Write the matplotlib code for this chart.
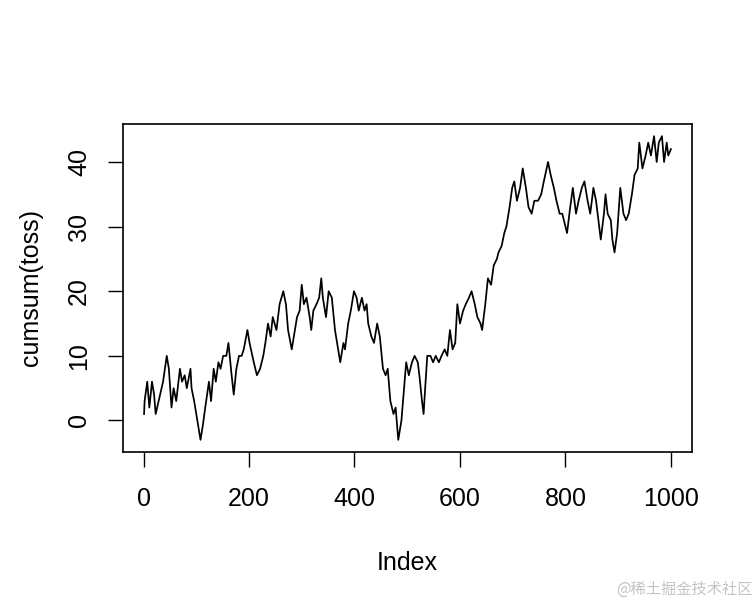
import matplotlib
matplotlib.use("Agg")
import matplotlib.pyplot as plt

plt.rcParams['font.family'] = ['Liberation Sans', 'DejaVu Sans']

# Turning points of cumsum(toss)
index = [1, 2, 7, 11, 16, 20, 23, 37, 44, 48, 53, 57, 62, 69, 73, 78, 82, 89, 91, 96,
         102, 108, 112, 117, 124, 128, 133, 137, 142, 146, 151, 157, 161, 167, 171, 176,
         181, 186, 190, 197, 201, 209, 215, 221, 227, 231, 236, 241, 245, 252, 258, 265,
         270, 274, 281, 285, 291, 296, 300, 304, 309, 315, 318, 322, 328, 333, 337, 340,
         346, 351, 357, 363, 369, 373, 379, 382, 388, 393, 399, 404, 408, 414, 419, 423,
         426, 432, 437, 443, 448, 454, 459, 463, 468, 474, 478, 483, 489, 494, 498, 503,
         509, 514, 520, 523, 528, 531, 534, 538, 544, 549, 554, 560, 565, 571, 576, 581,
         586, 591, 595, 600, 606, 611, 617, 622, 628, 633, 639, 642, 648, 653, 659, 664,
         670, 673, 679, 684, 688, 694, 699, 703, 708, 714, 719, 725, 730, 736, 741, 748,
         754, 759, 767, 772, 778, 783, 789, 794, 800, 803, 809, 814, 820, 825, 831, 836,
         842, 847, 853, 858, 864, 867, 873, 876, 880, 886, 889, 893, 898, 904, 910, 915,
         920, 926, 931, 937, 940, 946, 952, 957, 962, 968, 973, 977, 983, 987, 992, 995,
         1000]
toss_cumsum = [1, 3, 6, 2, 6, 4, 1, 6, 10, 8, 2, 5, 3, 8, 6, 7, 5, 8, 5, 3,
               0, -3, -1, 2, 6, 3, 8, 6, 9, 8, 10, 10, 12, 7, 4, 8,
               10, 10, 11, 14, 12, 9, 7, 8, 10, 12, 15, 13, 16, 14, 18, 20,
               18, 14, 11, 13, 16, 17, 21, 18, 19, 16, 14, 17, 18, 19, 22, 19,
               16, 20, 19, 14, 11, 9, 12, 11, 15, 17, 20, 19, 17, 19, 17, 18,
               15, 13, 12, 15, 13, 8, 7, 8, 3, 1, 2, -3, 0, 5, 9, 7,
               9, 10, 9, 7, 3, 1, 5, 10, 10, 9, 10, 9, 10, 11, 10, 14,
               11, 12, 18, 15, 17, 18, 19, 20, 18, 16, 15, 14, 18, 22, 21, 24,
               25, 26, 27, 29, 30, 33, 36, 37, 34, 36, 39, 36, 33, 32, 34, 34,
               35, 37, 40, 38, 36, 34, 32, 32, 30, 29, 33, 36, 32, 34, 36, 37,
               34, 32, 36, 34, 30, 28, 32, 35, 32, 31, 28, 26, 29, 36, 32, 31,
               32, 35, 38, 39, 43, 39, 41, 43, 41, 44, 40, 43, 44, 40, 43, 41,
               42]
x_ticks = [0, 200, 400, 600, 800, 1000]
y_ticks = [0, 10, 20, 30, 40]

fig = plt.figure(figsize=(7.56, 6.06), dpi=100)
ax = fig.add_axes([123/756, 1 - 452/606, (692 - 123)/756, (452 - 124)/606])
ax.plot(index, toss_cumsum, color='black', lw=1.25)

ax.set_xlim(1 - 0.04 * 999, 1000 + 0.04 * 999)
ax.set_ylim(-3 - 0.04 * 47, 44 + 0.04 * 47)
ax.set_xticks(x_ticks)
ax.set_yticks(y_ticks)
ax.set_yticklabels([str(v) for v in y_ticks], rotation=90, va='center')
ax.tick_params(direction='out', length=11, width=1.0, labelsize=18, colors='black')
ax.tick_params(axis='x', pad=14)
ax.tick_params(axis='y', pad=12)
for s in ax.spines.values():
    s.set_linewidth(1.2)
ax.set_xlabel('Index', fontsize=18, labelpad=29)
ax.set_ylabel('cumsum(toss)', fontsize=18, labelpad=17)

fig.text(0.995, 0.027, '@稀土掘金技术社区', ha='right', va='center', fontsize=11,
         color='#c4c4c4', family=['Noto Sans CJK SC', 'DejaVu Sans'])

fig.savefig('out.png', dpi=100)
